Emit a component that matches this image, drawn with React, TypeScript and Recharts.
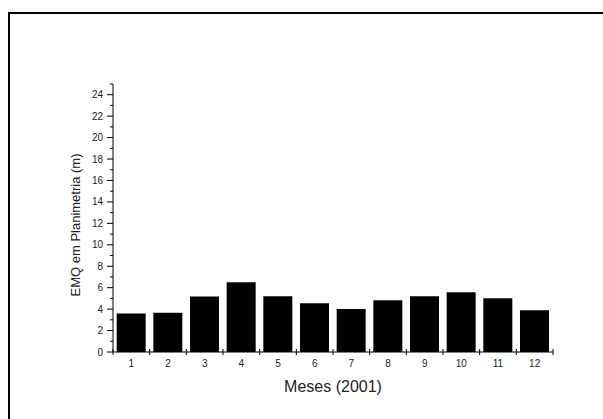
import React from 'react';
import { BarChart, Bar, XAxis, YAxis } from 'recharts';

const months = ['1', '2', '3', '4', '5', '6', '7', '8', '9', '10', '11', '12'];
const emq = [3.6, 3.67, 5.17, 6.5, 5.2, 4.55, 4.0, 4.83, 5.2, 5.58, 5.02, 3.9];
const yTicks = [0, 1, 2, 3, 4, 5, 6, 7, 8, 9, 10, 11, 12, 13, 14, 15, 16, 17, 18, 19, 20, 21, 22, 23, 24, 25];

const data = months.map((m, i) => ({ mes: m, emq: emq[i] }));

const FONT = '"Liberation Sans", Arial, sans-serif';

const YTick = (props: any) => {
  const { x, y, payload } = props;
  const v = payload.value;
  const major = v % 2 === 0 && v <= 24;
  return (
    <g>
      <line x1={x - (major ? 6 : 3)} y1={y} x2={x} y2={y} stroke="#000" strokeWidth={1} />
      {major && (
        <text x={x - 10} y={y} dy={3.5} textAnchor="end" fontSize={10} fontFamily={FONT} fill="#222">
          {v}
        </text>
      )}
    </g>
  );
};

const XTick = (props: any) => {
  const { x, y, payload, index } = props;
  const half = payload.offset || 18.33;
  return (
    <g>
      <line x1={x - half} y1={y - 3} x2={x - half} y2={y + 3} stroke="#000" strokeWidth={1} />
      {index === months.length - 1 && (
        <line x1={x + half} y1={y - 3} x2={x + half} y2={y + 3} stroke="#000" strokeWidth={1} />
      )}
      <text x={x} y={y} dy={15} textAnchor="middle" fontSize={10} fontFamily={FONT} fill="#222">
        {payload.value}
      </text>
    </g>
  );
};

export default function App() {
  return (
    <div style={{ position: 'fixed', left: 0, top: 0, width: 603, height: 419, background: '#fff', overflow: 'hidden' }}>
      <div
        style={{
          position: 'absolute',
          left: 8,
          top: 12,
          width: 620,
          height: 430,
          borderLeft: '2px solid #000',
          borderTop: '2px solid #000',
        }}
      />
      <div style={{ position: 'absolute', left: 0, top: 0 }}>
        <BarChart
          width={603}
          height={419}
          data={data}
          margin={{ top: 84, right: 50, left: 53, bottom: 22 }}
          barCategoryGap="10%"
        >
          <XAxis
            dataKey="mes"
            height={45}
            axisLine={{ stroke: '#000' }}
            tickLine={false}
            tickSize={0}
            tickMargin={0}
            interval={0}
            tick={<XTick />}
            label={{ value: 'Meses (2001)', position: 'insideBottom', offset: 5, fontSize: 16, fontFamily: FONT, fill: '#222' }}
          />
          <YAxis
            width={60}
            domain={[0, 25]}
            ticks={yTicks}
            interval={0}
            axisLine={{ stroke: '#000' }}
            tickLine={false}
            tickSize={0}
            tickMargin={0}
            tick={<YTick />}
            label={{
              value: 'EMQ em Planimetria (m)',
              angle: -90,
              position: 'center',
              dx: -8,
              dy: 7,
              fontSize: 13,
              fontFamily: FONT,
              fill: '#222',
            }}
          />
          <Bar dataKey="emq" fill="#000" isAnimationActive={false} />
        </BarChart>
      </div>
    </div>
  );
}
